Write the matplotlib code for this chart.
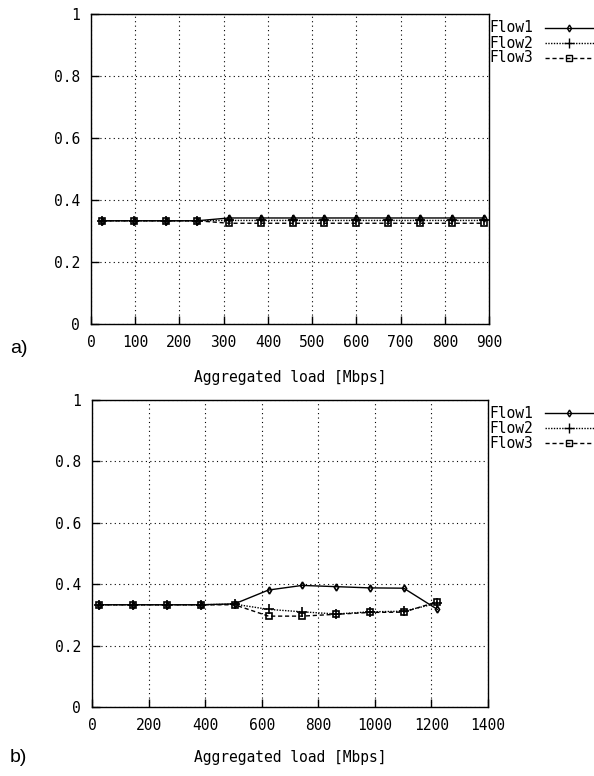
import numpy as np
import matplotlib
matplotlib.use("Agg")
import matplotlib.pyplot as plt
from matplotlib.lines import Line2D

# data
load_a = [24, 97, 169, 240, 312, 384, 456, 528, 600, 672, 744, 816, 888]
flow1_a = [0.333, 0.333, 0.333, 0.333, 0.342, 0.342, 0.342, 0.342, 0.342, 0.342, 0.342, 0.342, 0.342]
flow2_a = [0.333, 0.333, 0.333, 0.333, 0.334, 0.334, 0.334, 0.334, 0.334, 0.334, 0.334, 0.334, 0.334]
flow3_a = [0.333, 0.333, 0.333, 0.333, 0.325, 0.325, 0.325, 0.325, 0.325, 0.325, 0.325, 0.325, 0.325]

load_b = [26, 146, 265, 385, 504, 624, 743, 863, 982, 1102, 1221]
flow1_b = [0.333, 0.333, 0.333, 0.333, 0.336, 0.381, 0.396, 0.392, 0.388, 0.387, 0.318]
flow2_b = [0.333, 0.333, 0.333, 0.333, 0.335, 0.318, 0.310, 0.303, 0.310, 0.312, 0.338]
flow3_b = [0.333, 0.333, 0.333, 0.333, 0.333, 0.296, 0.296, 0.302, 0.308, 0.309, 0.343]

names = ["Flow1", "Flow2", "Flow3"]
yticks = [0, 0.2, 0.4, 0.6, 0.8, 1]
yticklabels = ["0", "0.2", "0.4", "0.6", "0.8", "1"]

mono = "DejaVu Sans Mono"
styles = [
    dict(linestyle="-", marker="d", markersize=3.5),
    dict(linestyle=(0, (1, 1)), marker="+", markersize=7),
    dict(linestyle=(0, (3, 2)), marker="s", markersize=5),
]


def setup(ax, xmax, xstep, labely):
    ax.set_xlim(0, xmax)
    ax.set_ylim(0, 1)
    ax.set_xticks(np.arange(0, xmax + 1, xstep))
    ax.set_yticks(yticks)
    ax.set_yticklabels(yticklabels)
    ax.tick_params(direction="in", length=6, width=1, pad=8, labelsize=10.5)
    for lab in ax.get_xticklabels() + ax.get_yticklabels():
        lab.set_family(mono)
    ax.grid(True, color="black", linestyle=(0, (1, 3)), linewidth=0.8)
    for s in ax.spines.values():
        s.set_linewidth(1.0)
    ax.set_xlabel("Aggregated load [Mbps]", family=mono, fontsize=10.5, va="center")
    ax.xaxis.set_label_coords(0.5, labely)


def legend(fig, ytop):
    # hand drawn gnuplot style key, right of the plot box
    for i, name in enumerate(names):
        y = ytop + i * 15
        fig.text(489 / 594, 1 - y / 776, name, family=mono, fontsize=10.5,
                 va="center", ha="left")
        st = styles[i]
        fig.add_artist(Line2D([545 / 594, 594 / 594], [1 - y / 776, 1 - y / 776],
                              color="black", linewidth=1, linestyle=st["linestyle"]))
        fig.add_artist(Line2D([569 / 594], [1 - y / 776], color="black",
                              marker=st["marker"], markersize=st["markersize"],
                              markerfacecolor="none", linestyle="none"))


fig = plt.figure(figsize=(5.94, 7.76), dpi=100)
ax1 = fig.add_axes([91 / 594, 1 - 324 / 776, 398 / 594, 310 / 776])
ax2 = fig.add_axes([92 / 594, 1 - 707 / 776, 396 / 594, 307 / 776])

for ax, x, ys in [(ax1, load_a, [flow1_a, flow2_a, flow3_a]),
                  (ax2, load_b, [flow1_b, flow2_b, flow3_b])]:
    for y, st, name in zip(ys, styles, names):
        ax.plot(x, y, color="black", linewidth=1, markerfacecolor="none",
                markeredgewidth=1.2, label=name, clip_on=False, **st)

setup(ax1, 900, 100, -0.174)
setup(ax2, 1400, 200, -0.166)

legend(fig, 28)
legend(fig, 413)

fig.text(10 / 594, 1 - 349 / 776, "a)", fontsize=14, family="Liberation Sans", va="center")
fig.text(10 / 594, 1 - 758 / 776, "b)", fontsize=14, family="Liberation Sans", va="center")

fig.savefig("out.png", dpi=100)
